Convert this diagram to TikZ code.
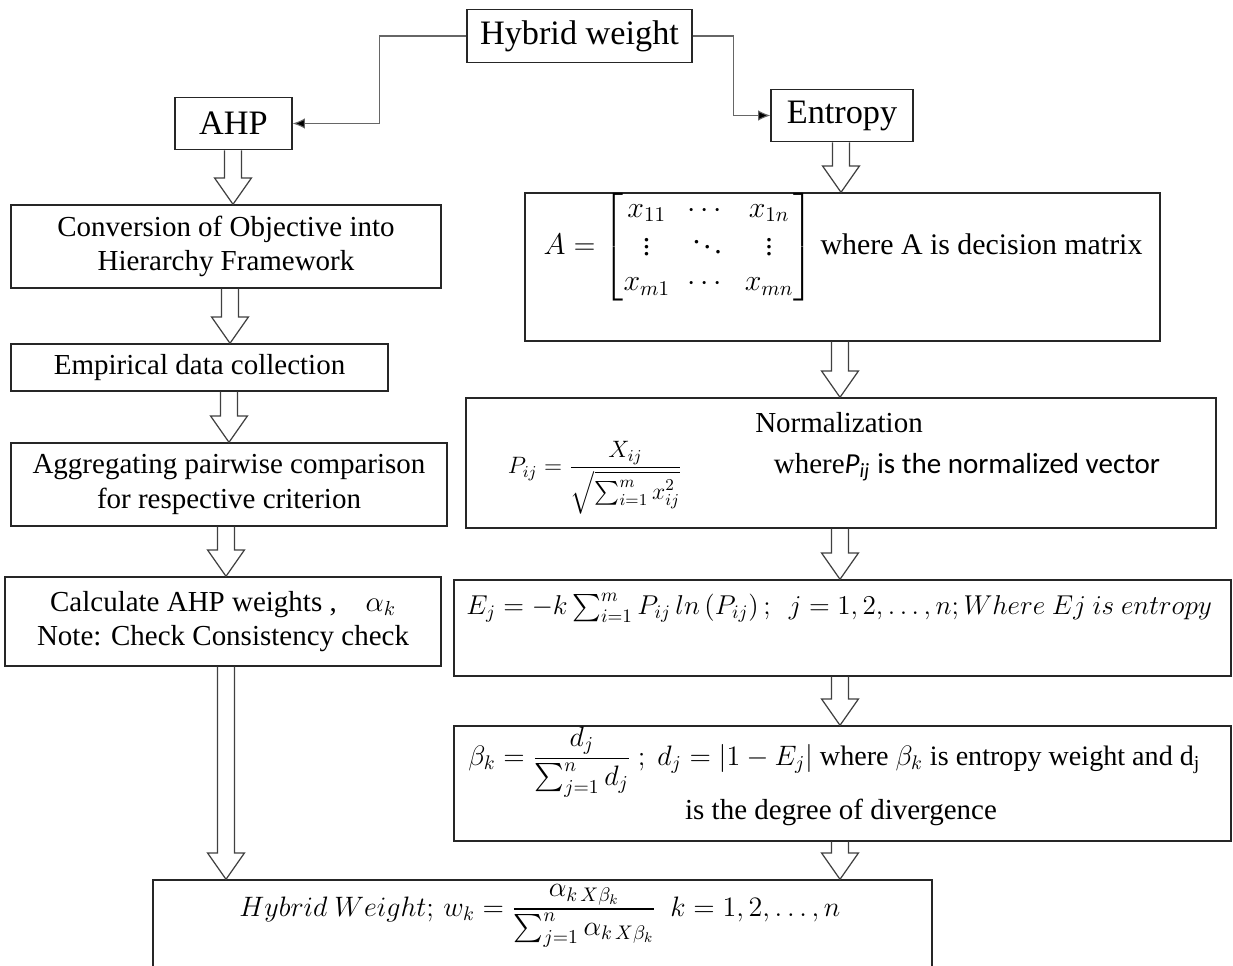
\RequirePackage{fix-cm}
\documentclass[tikz,border=0pt]{standalone}
\usepackage{amsmath, amssymb}
\usepackage{fontspec}
\setmainfont{Liberation Serif}
\newfontfamily\calibri{Carlito}
\usepackage{tikz}
\usetikzlibrary{
  arrows.meta,
  calc
}

% hollow block arrow: x (px), from node, to node
\newcommand{\hollowdown}[3]{%
  \path (#1,0) coordinate (hx);
  \draw[hollow] let \p0=(hx), \p1=(#2.south), \p2=(#3.north) in
    (\x0-4.8pt,\y1) -- (\x0-4.8pt,\y2+15pt) -- (\x0-10.5pt,\y2+15pt)
    -- (\x0,\y2) -- (\x0+10.5pt,\y2+15pt) -- (\x0+4.8pt,\y2+15pt)
    -- (\x0+4.8pt,\y1);
}

\begin{document}
\begin{tikzpicture}[
  x=0.02cm, y=-0.02cm,
  stage/.style={
    draw=black!85, line width=0.8pt,
    minimum width=#1, inner sep=0pt,
    align=center, font=\fontsize{16.5}{19.5}\selectfont
  },
  topbox/.style={
    draw=black!85, line width=0.8pt, inner sep=0pt,
    minimum height=1.05cm, font=\fontsize{19.5}{22}\selectfont
  },
  txt/.style={inner sep=0pt, align=center, font=\fontsize{16.5}{19.5}\selectfont},
  link/.style={draw=black!60, line width=0.6pt, -{Latex[length=7pt,width=6pt,fill=black]}},
  hollow/.style={draw=black!75, line width=0.7pt, line join=miter}
]
\clip (0,0) rectangle (1233,966);

\node[topbox, minimum width=4.5cm] (hw) at (579.5,36) {Hybrid weight};
\node[topbox, minimum width=2.34cm] (ahp) at (233.5,123.5) {AHP};
\node[topbox, minimum width=2.84cm] (ent) at (842,115.5) {Entropy};

% AHP branch
\node[stage=8.6cm, minimum height=1.66cm] (conv) at (226,246.5)
  {Conversion of Objective into\\Hierarchy Framework};
\node[stage=7.54cm, minimum height=0.94cm] (emp) at (199.5,367.5)
  {Empirical data collection};
\node[stage=8.72cm, minimum height=1.66cm] (agg) at (229,484.5)
  {Aggregating pairwise comparison\\for respective criterion};
\node[stage=8.72cm, minimum height=1.78cm] (calw) at (223,621.5)
  {Calculate AHP weights ,\quad$\alpha_k$\\Note: Check Consistency check};

% Entropy branch
\node[stage=12.7cm, minimum height=2.96cm] (mat) at (842.5,267) {};
\node[txt, font=\fontsize{17}{20}\selectfont] (matT) at (843,247)
  {$A = \begin{bmatrix} x_{11} & \cdots & x_{1n}\\
  \vdots & \ddots & \vdots\\ x_{m1} & \cdots & x_{mn} \end{bmatrix}$ where A is decision matrix};
\node[stage=15cm, minimum height=2.6cm] (norm) at (841,463) {};
\node[txt] (normT) at (839,423) {Normalization};
\node[txt, font=\fontsize{13.5}{16}\selectfont] (normF) at (595,478)
  {$P_{ij} = \dfrac{X_{ij}}{\sqrt{\sum_{i=1}^{m} x_{ij}^{2}}}$};
\node[txt] (normW) at (967,467)
  {where{\calibri\itshape P\textsubscript{ij}} {\calibri is the normalized vector}};
\node[stage=15.54cm, minimum height=1.92cm] (entj) at (842.5,628) {};
\node[txt, anchor=west, font=\fontsize{15.5}{18}\selectfont] (entjT) at (466,608)
  {$E_j = -k\sum_{i=1}^{m} P_{ij}\,ln\left(P_{ij}\right);\ \ j = 1,2,\ldots,n; Where\ Ej\ is\ entropy$};
\node[stage=15.54cm, minimum height=2.3cm] (beta) at (842.5,783.5) {};
\node[txt, anchor=west, font=\fontsize{16}{19}\selectfont] (betaT) at (468,762)
  {$\beta_k = \dfrac{d_j}{\sum_{j=1}^{n} d_j}\ ;\ d_j = \left|1 - E_j\right|$ where $\beta_k$ is entropy weight and d$_\mathrm{j}$};
\node[txt] (betaU) at (841,812) {is the degree of divergence};

% result
\node[stage=15.58cm, minimum height=2.2cm] (hyb) at (542.5,935) {};
\node[txt, font=\fontsize{16}{19}\selectfont] (hybT) at (540,916)
  {$Hybrid\ Weight;\, w_k = \dfrac{\alpha_{k\,X\beta_k}}{\sum_{j=1}^{n}\alpha_{k\,X\beta_k}}\ \ k = 1,2,\ldots,n$};

% connectors
\draw[link] (hw.west) -- ++(-87,0) |- (ahp.east);
\draw[link] (hw.east) -- ++(41,0) |- (ent.west);

\hollowdown{233}{ahp}{conv}
\hollowdown{230}{conv}{emp}
\hollowdown{229}{emp}{agg}
\hollowdown{226}{agg}{calw}
\hollowdown{226}{calw}{hyb}
\hollowdown{841}{ent}{mat}
\hollowdown{840}{mat}{norm}
\hollowdown{840}{norm}{entj}
\hollowdown{840}{entj}{beta}
\hollowdown{840}{beta}{hyb}
\end{tikzpicture}
\end{document}
